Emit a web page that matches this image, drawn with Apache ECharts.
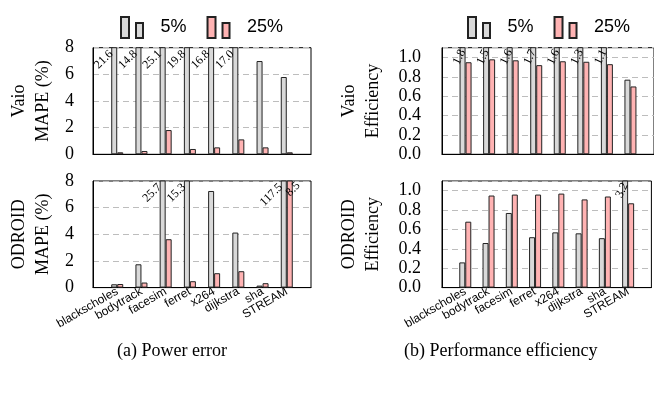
<!DOCTYPE html>
<html>
<head>
<meta charset="utf-8">
<script src="https://cdn.jsdelivr.net/npm/echarts@6/dist/echarts.min.js"></script>
<style>
  html, body { margin: 0; padding: 0; background: #fff; }
  #chart { width: 654px; height: 393px; }
</style>
</head>
<body>
<div id="chart"></div>
<script>
// benchmarks on the x axis (same for all four panels)
const benchmarks = ['blackscholes', 'bodytrack', 'facesim', 'ferret', 'x264', 'dijkstra', 'sha', 'STREAM']
const seriesNames = ['5%', '25%']

// (a) power error, MAPE in %
const vaioMape5 = [21.6, 14.8, 25.1, 19.8, 16.8, 17.0, 7.0, 5.8]
const vaioMape25 = [0.15, 0.25, 1.82, 0.4, 0.52, 1.12, 0.52, 0.15]
const odroidMape5 = [0.25, 1.75, 25.7, 15.3, 7.25, 4.13, 0.15, 117.5]
const odroidMape25 = [0.27, 0.38, 3.63, 0.48, 1.08, 1.23, 0.33, 8.5]

// (b) performance efficiency
const vaioEff5 = [1.8, 1.5, 1.6, 1.7, 1.6, 1.3, 1.14, 0.77]
const vaioEff25 = [0.95, 0.98, 0.97, 0.92, 0.96, 0.955, 0.93, 0.70]
const odroidEff5 = [0.26, 0.46, 0.77, 0.52, 0.57, 0.56, 0.51, 3.2]
const odroidEff25 = [0.68, 0.95, 0.96, 0.96, 0.97, 0.91, 0.94, 0.87]

const serif = 'Liberation Serif'
const sans = 'Liberation Sans'
const GREY = '#d9d9d9'
const PINK = '#ffb3b3'
const EDGE = '#222'

const panels = [
  { left: 93, top: 47.7, name: 'Vaio\nMAPE (%)', max: 8, step: 2, dec: 0, gap: 38, lm: 19, bottom: false, lean: 45, d5: vaioMape5, d25: vaioMape25 },
  { left: 93, top: 181, name: 'ODROID\nMAPE (%)', max: 8, step: 2, dec: 0, gap: 38, lm: 19, bottom: true, lean: 45, d5: odroidMape5, d25: odroidMape25 },
  { left: 442, top: 47.7, name: 'Vaio\nEfficiency', max: 1.1, step: 0.2, dec: 1, gap: 57, lm: 21, bottom: false, lean: 65, d5: vaioEff5, d25: vaioEff25 },
  { left: 442, top: 181, name: 'ODROID\nEfficiency', max: 1.1, step: 0.2, dec: 1, gap: 57, lm: 21, bottom: true, lean: 65, d5: odroidEff5, d25: odroidEff25 }
]

// pad one empty slot on each side so bars sit on ticks 1..8 of 0..9
const cats = [''].concat(benchmarks, [''])
const pad = arr => [null].concat(arr, [null])

const grids = [], xAxes = [], yAxes = [], series = []
panels.forEach((p, i) => {
  grids.push({ left: p.left, top: p.top, width: 218, height: 106.6, show: true, borderColor: '#000', borderWidth: 1 })
  xAxes.push({
    type: 'category', gridIndex: i, data: cats, boundaryGap: false,
    axisLine: { lineStyle: { color: '#000', width: 1 } },
    axisTick: { show: false },
    axisLabel: { show: p.bottom, interval: 0, rotate: 30, margin: 3, fontFamily: sans, fontSize: 12, color: '#000' },
    splitLine: { show: false }
  })
  yAxes.push({
    type: 'value', gridIndex: i, min: 0, max: p.max, interval: p.step,
    name: p.name, nameLocation: 'middle', nameGap: p.gap,
    nameTextStyle: { fontFamily: serif, fontSize: 18, lineHeight: 24, color: '#000' },
    axisLine: { show: true, lineStyle: { color: '#000', width: 1 } },
    axisTick: { show: false },
    axisLabel: { margin: p.lm, showMaxLabel: p.dec === 0, fontFamily: serif, fontSize: 18, color: '#000',
      formatter: v => v.toFixed(p.dec) },
    splitLine: { show: true, lineStyle: { color: '#bdbdbd', type: [6, 4], width: 1 } }
  })
  const over = v => (v != null && v > p.max) ? v.toFixed(1) : ''
  series.push({
    name: seriesNames[0], type: 'bar', xAxisIndex: i, yAxisIndex: i, data: pad(p.d5),
    barWidth: 6, barGap: '0%', clip: true,
    itemStyle: { color: GREY, borderColor: EDGE, borderWidth: 1 },
    label: { show: true, formatter: q => over(q.value), position: [p.lean > 50 ? 3 : 0, p.lean > 50 ? 3 : 5],
      rotate: p.lean, align: 'right', verticalAlign: 'middle', fontFamily: serif, fontSize: 12, color: '#000' }
  })
  series.push({
    name: seriesNames[1], type: 'bar', xAxisIndex: i, yAxisIndex: i, data: pad(p.d25),
    barWidth: 6, barGap: '0%', clip: true,
    itemStyle: { color: PINK, borderColor: EDGE, borderWidth: 1 },
    label: { show: true, formatter: q => over(q.value), position: [1, 14],
      rotate: 45, align: 'left', verticalAlign: 'middle', fontFamily: serif, fontSize: 12, color: '#000' }
  })
})

const legendIcon = 'path://M0,0H8V21H0Z M15,6H22V21H15Z'
const legendBase = {
  top: 11, itemWidth: 23, itemHeight: 21, itemGap: 20, icon: legendIcon,
  data: seriesNames, selectedMode: false,
  textStyle: { fontFamily: sans, fontSize: 18, color: '#000', padding: [0, 0, 0, 12] }
}

const option = {
  animation: false,
  backgroundColor: '#fff',
  legend: [
    Object.assign({ left: 115 }, legendBase),
    Object.assign({ left: 462 }, legendBase)
  ],
  grid: grids,
  xAxis: xAxes,
  yAxis: yAxes,
  series: series,
  graphic: [
    { type: 'text', left: 117, top: 342, style: { text: '(a) Power error', font: '18px "Liberation Serif"', fill: '#000' } },
    { type: 'text', left: 404, top: 342, style: { text: '(b) Performance efficiency', font: '18px "Liberation Serif"', fill: '#000' } }
  ]
}

const chart = echarts.init(document.getElementById('chart'))
chart.setOption(option)
</script>
</body>
</html>
